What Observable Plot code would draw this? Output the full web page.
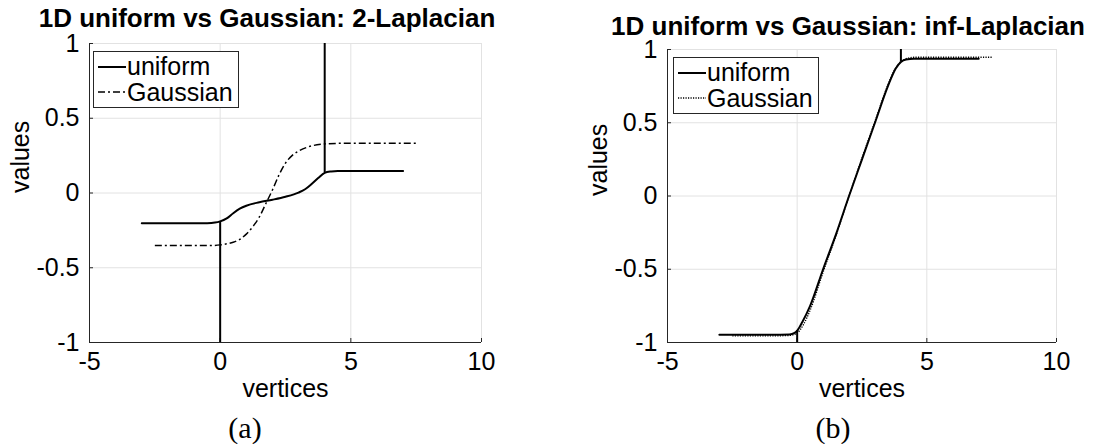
<!DOCTYPE html>
<html><head><meta charset="utf-8">
<script src="https://cdn.jsdelivr.net/npm/d3@7"></script>
<script src="https://cdn.jsdelivr.net/npm/@observablehq/plot@0.6"></script>
<style>
body{margin:0;background:#fff;}
#wrap{position:relative;width:1109px;height:444px;overflow:hidden;font-family:"Liberation Sans",Arial,sans-serif;color:#000;}
.abs{position:absolute;}
.title{font-weight:bold;font-size:26px;white-space:nowrap;transform:translateX(-50%);line-height:1;}
.cap{font-family:"Liberation Serif","Times New Roman",serif;font-size:30px;transform:translateX(-50%);line-height:1;white-space:nowrap;}
.legend{border:1px solid #262626;background:#fff;box-sizing:border-box;}
.legend span{position:absolute;font-size:25px;line-height:1;white-space:nowrap;}
.legend svg{position:absolute;}
</style></head><body><div id="wrap"></div>
<script>
// ---- data ----
const xTicks = [-5, 0, 5, 10];
const yTicks = [-1, -0.5, 0, 0.5, 1];

// (a) 2-Laplacian
const uni2X = [-3, -2, -1, -0.5, -0.2, 0, 0.25, 0.5, 0.75, 1, 1.5, 2, 2.5, 3, 3.25, 3.5, 3.75, 4, 4.25, 4.5, 5, 6, 7];
const uni2Y = [-0.203, -0.203, -0.203, -0.202, -0.198, -0.19, -0.17, -0.135, -0.105, -0.085, -0.062, -0.045, -0.025, 0.003, 0.025, 0.06, 0.1, 0.135, 0.144, 0.147, 0.147, 0.147, 0.147];
const gau2X = [-2.5, -1, -0.3, 0, 0.25, 0.5, 0.75, 1, 1.25, 1.5, 1.75, 2, 2.25, 2.5, 2.75, 3, 3.5, 4, 4.5, 5, 6, 7.5];
const gau2Y = [-0.352, -0.352, -0.351, -0.347, -0.34, -0.329, -0.31, -0.275, -0.225, -0.16, -0.07, 0.02, 0.12, 0.2, 0.25, 0.28, 0.315, 0.328, 0.332, 0.333, 0.333, 0.333];
const spike2X = [0, 4];
const spike2From = [-0.19, 0.135];
const spike2To = [-1, 1];

// (b) inf-Laplacian
const uniInfX = [-3, -1, -0.3, -0.1, 0, 0.2, 0.5, 1, 1.5, 2, 2.5, 3, 3.5, 3.8, 4, 4.2, 4.5, 5, 6, 7];
const uniInfY = [-0.947, -0.947, -0.945, -0.935, -0.92, -0.86, -0.75, -0.5, -0.26, 0.0, 0.25, 0.5, 0.75, 0.87, 0.915, 0.932, 0.937, 0.937, 0.937, 0.937];
const gauInfX = [-2.5, -1, -0.3, 0, 0.25, 0.5, 1, 1.5, 2, 2.5, 3, 3.5, 3.75, 4, 4.25, 4.5, 5, 6, 7.5];
const gauInfY = [-0.955, -0.955, -0.952, -0.935, -0.875, -0.78, -0.52, -0.27, 0.0, 0.26, 0.51, 0.76, 0.86, 0.918, 0.94, 0.947, 0.947, 0.947, 0.947];
const spikeInfX = [0, 4];
const spikeInfFrom = [-0.92, 0.915];
const spikeInfTo = [-1, 1];

const seriesNames = ["uniform", "Gaussian"];

// ---- drawing ----
const wrap = document.getElementById("wrap");
const zipXY = (xs, ys) => xs.map((x, i) => ({x, y: ys[i]}));

function panel(o) {
  const plotW = o.width - o.mLeft - o.mRight;
  const plotH = 444 - o.mTop - o.mBottom;
  const spikes = o.spikeX.map((x, i) => ({x, y1: o.spikeFrom[i], y2: o.spikeTo[i]}));
  const svg = Plot.plot({
    width: o.width, height: 444,
    marginLeft: o.mLeft, marginRight: o.mRight, marginTop: o.mTop, marginBottom: o.mBottom,
    x: {domain: [-5, 10]},
    y: {domain: [-1, 1]},
    style: {fontFamily: '"Liberation Sans", Arial, sans-serif', fontSize: "25px", color: "#000", background: "transparent", overflow: "visible"},
    marks: [
      Plot.gridX(xTicks, {stroke: "#e2e2e2", strokeOpacity: 1, strokeWidth: 1}),
      Plot.gridY(yTicks, {stroke: "#e2e2e2", strokeOpacity: 1, strokeWidth: 1}),
      Plot.ruleX([-5], {stroke: "#262626", strokeWidth: 1}),
      Plot.ruleY([-1], {stroke: "#262626", strokeWidth: 1}),
      Plot.tickX(xTicks, {x: d => d, insetTop: plotH - 4, stroke: "#262626"}),
      Plot.tickY(yTicks, {y: d => d, insetRight: plotW - 4, stroke: "#262626"}),
      Plot.axisX({ticks: xTicks, tickSize: 0, tickPadding: 10, label: null, tickFormat: d => String(d)}),
      Plot.axisY({ticks: yTicks, tickSize: 0, tickPadding: 10, label: null, tickFormat: d => String(d)}),
      Plot.text(["vertices"], {frameAnchor: "bottom", dy: 54, fontSize: 25}),
      Plot.text(["values"], {frameAnchor: "left", dx: -69, rotate: -90, fontSize: 25}),
      Plot.line(zipXY(o.gauX, o.gauY), {x: "x", y: "y", curve: "monotone-x", stroke: "#000", strokeWidth: o.gauWidth, strokeDasharray: o.gauDash, strokeLinecap: "butt", clip: true}),
      Plot.line(zipXY(o.uniX, o.uniY), {x: "x", y: "y", curve: "monotone-x", stroke: "#000", strokeWidth: 2, clip: true}),
      Plot.ruleX(spikes, {x: "x", y1: "y1", y2: "y2", stroke: "#000", strokeWidth: 2, clip: true})
    ]
  });
  svg.style.position = "absolute";
  svg.style.left = o.left + "px";
  svg.style.top = "0px";
  wrap.appendChild(svg);

  const t = document.createElement("div");
  t.className = "abs title";
  t.style.left = o.titleX + "px";
  t.style.top = o.titleTop + "px";
  t.textContent = o.title;
  wrap.appendChild(t);

  const c = document.createElement("div");
  c.className = "abs cap";
  c.style.left = o.capX + "px";
  c.style.top = "413px";
  c.textContent = o.caption;
  wrap.appendChild(c);

  const lg = document.createElement("div");
  lg.className = "abs legend";
  lg.style.left = o.lgX + "px"; lg.style.top = o.lgY + "px";
  lg.style.width = o.lgW + "px"; lg.style.height = "57px";
  const dashes = [null, o.gauDash];
  const widths = [2, o.gauWidth];
  seriesNames.forEach((name, i) => {
    const s = document.createElementNS("http://www.w3.org/2000/svg", "svg");
    s.setAttribute("width", 28); s.setAttribute("height", 6);
    s.style.left = "4px"; s.style.top = (12 + i * 25) + "px";
    const ln = document.createElementNS("http://www.w3.org/2000/svg", "line");
    ln.setAttribute("x1", 0); ln.setAttribute("x2", 28); ln.setAttribute("y1", 3); ln.setAttribute("y2", 3);
    ln.setAttribute("stroke", "#000"); ln.setAttribute("stroke-width", widths[i]);
    if (dashes[i]) ln.setAttribute("stroke-dasharray", dashes[i]);
    s.appendChild(ln); lg.appendChild(s);
    const sp = document.createElement("span");
    sp.textContent = name;
    sp.style.left = "33px"; sp.style.top = (2 + i * 26) + "px";
    lg.appendChild(sp);
  });
  wrap.appendChild(lg);
}

panel({left: 0, width: 555, mLeft: 89, mRight: 74, mTop: 43, mBottom: 102,
  uniX: uni2X, uniY: uni2Y, gauX: gau2X, gauY: gau2Y,
  spikeX: spike2X, spikeFrom: spike2From, spikeTo: spike2To,
  gauDash: "7,3,2,3", gauWidth: 1.5,
  title: "1D uniform vs Gaussian: 2-Laplacian", titleX: 267, titleTop: 5,
  caption: "(a)", capX: 245,
  lgX: 93, lgY: 51, lgW: 146});

panel({left: 555, width: 554, mLeft: 112, mRight: 53, mTop: 49, mBottom: 102,
  uniX: uniInfX, uniY: uniInfY, gauX: gauInfX, gauY: gauInfY,
  spikeX: spikeInfX, spikeFrom: spikeInfFrom, spikeTo: spikeInfTo,
  gauDash: "1.2,1.3", gauWidth: 1.3,
  title: "1D uniform vs Gaussian: inf-Laplacian", titleX: 848, titleTop: 13,
  caption: "(b)", capX: 833,
  lgX: 673, lgY: 57, lgW: 146});
</script></body></html>
